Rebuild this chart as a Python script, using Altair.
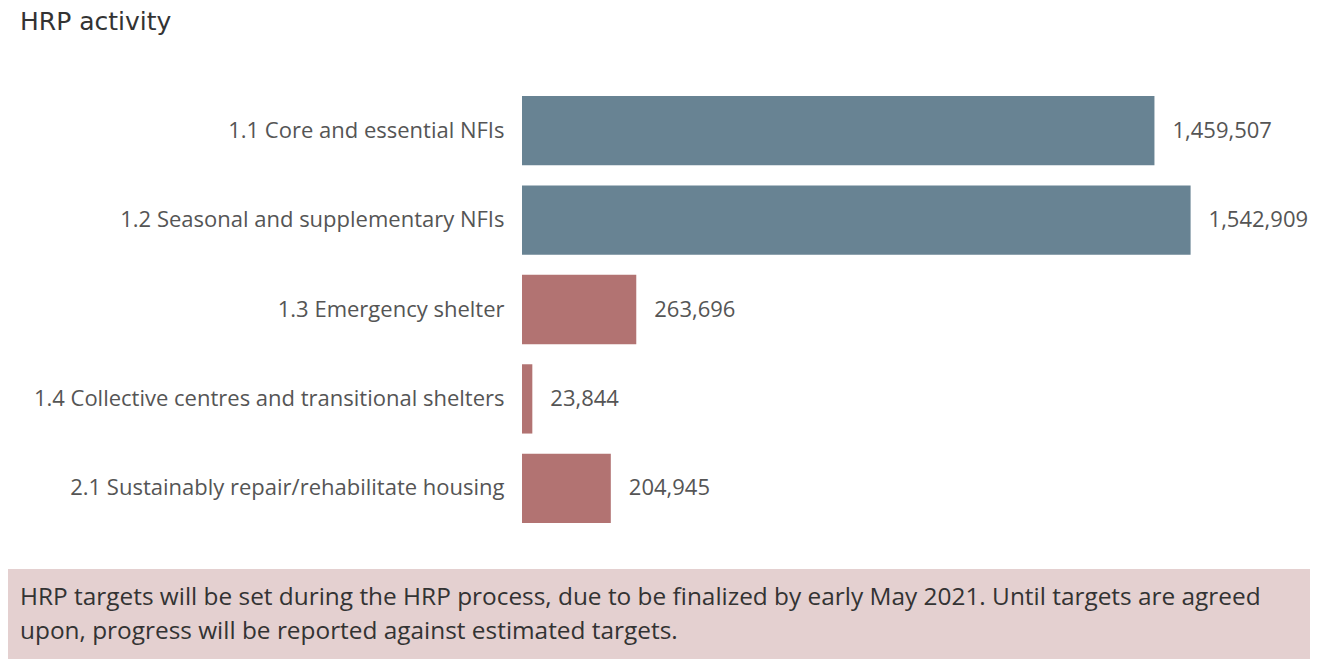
import altair as alt
import pandas as pd

activities = [
    "1.1 Core and essential NFIs",
    "1.2 Seasonal and supplementary NFIs",
    "1.3 Emergency shelter",
    "1.4 Collective centres and transitional shelters",
    "2.1 Sustainably repair/rehabilitate housing",
]
values = [1459507, 1542909, 263696, 23844, 204945]
groups = ["NFI", "NFI", "Shelter", "Shelter", "Shelter"]

title_text = "HRP activity"
note_lines = [
    "HRP targets will be set during the HRP process, due to be finalized by early May 2021. Until targets are agreed",
    "upon, progress will be reported against estimated targets.",
]

df = pd.DataFrame({"activity": activities, "value": values, "group": groups})

FONT = "Open Sans"
W, H = 780, 447

y_enc = alt.Y(
    "activity:N",
    sort=activities,
    scale=alt.Scale(paddingInner=0.225, paddingOuter=0.1125),
    axis=alt.Axis(
        title=None, ticks=False, domain=False, labelFontSize=22, labelFont=FONT,
        labelColor="#555555", labelPadding=18, labelLimit=600,
    ),
)
x_enc = alt.X("value:Q", scale=alt.Scale(domain=[0, 1800000], nice=False), axis=None)

base = alt.Chart(df)
bars = base.mark_bar().encode(
    x=x_enc,
    y=y_enc,
    color=alt.Color("group:N", scale=alt.Scale(domain=["NFI", "Shelter"], range=["#688393", "#b27372"]), legend=None),
)
labels = base.mark_text(align="left", baseline="middle", dx=18, fontSize=22, font=FONT, color="#555555").encode(
    x=x_enc, y=y_enc, text=alt.Text("value:Q", format=",")
)

one = pd.DataFrame({"k": [0]})
title = alt.Chart(one).mark_text(align="left", baseline="alphabetic", fontSize=25, font="DejaVu Sans", color="#333333").encode(
    x=alt.value(-502), y=alt.value(-56), text=alt.value(title_text)
)
box = alt.Chart(one).mark_rect(color="#e4d0d0").encode(
    x=alt.value(-514), x2=alt.value(788), y=alt.value(483), y2=alt.value(573)
)
note1 = alt.Chart(one).mark_text(align="left", baseline="middle", fontSize=24.4, font=FONT, color="#333333").encode(
    x=alt.value(-502), y=alt.value(512), text=alt.value(note_lines[0])
)
note2 = alt.Chart(one).mark_text(align="left", baseline="middle", fontSize=24.4, font=FONT, color="#333333").encode(
    x=alt.value(-502), y=alt.value(546), text=alt.value(note_lines[1])
)

chart = alt.layer(bars, labels, title, box, note1, note2).properties(
    width=W, height=H,
    autosize=alt.AutoSizeParams(type="none"),
    padding={"left": 514, "top": 78, "right": 8, "bottom": 126},
).configure_view(stroke=None)

chart.save("out.html", embed_options={"renderer": "svg", "actions": False})
